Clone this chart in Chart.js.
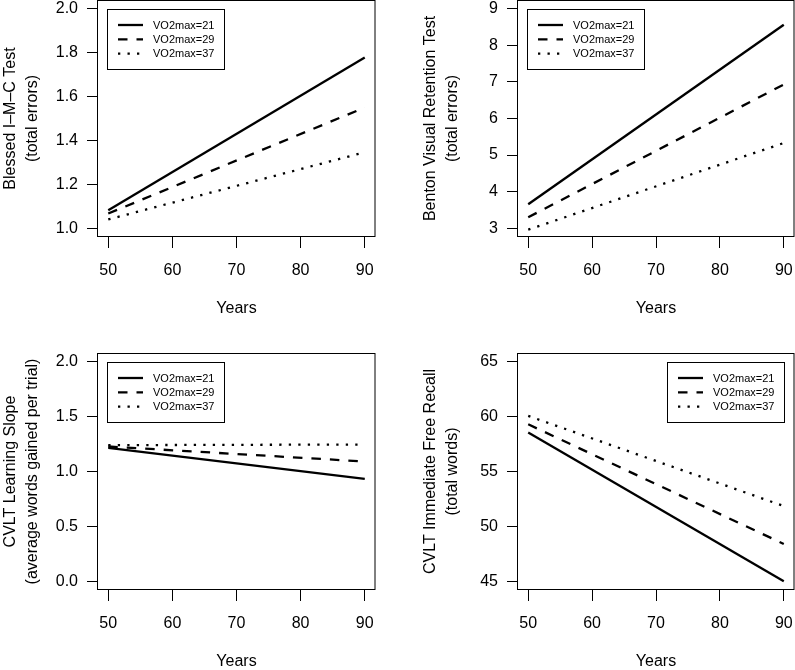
<!DOCTYPE html>
<html>
<head>
<meta charset="utf-8">
<script src="https://cdn.jsdelivr.net/npm/chart.js@4"></script>
<style>
  html, body { margin: 0; padding: 0; background: #fff; }
  body { width: 795px; height: 670px; position: relative; overflow: hidden; }
  canvas { position: absolute; }
</style>
</head>
<body>
<canvas id="c1"></canvas>
<canvas id="c2"></canvas>
<canvas id="c3"></canvas>
<canvas id="c4"></canvas>
<script>
// ---------------- DATA ----------------
const years = [50, 90];
const yearTicks = [50, 60, 70, 80, 90];
const groups = ["VO2max=21", "VO2max=29", "VO2max=37"];

const blessed21 = [1.082, 1.778];
const blessed29 = [1.067, 1.55];
const blessed37 = [1.04, 1.346];
const blessedTicks = [1.0, 1.2, 1.4, 1.6, 1.8, 2.0];

const benton21 = [3.656, 8.565];
const benton29 = [3.30, 6.93];
const benton37 = [2.96, 5.33];
const bentonTicks = [3, 4, 5, 6, 7, 8, 9];

const slope21 = [1.216, 0.933];
const slope29 = [1.228, 1.091];
const slope37 = [1.24, 1.246];
const slopeTicks = [0.0, 0.5, 1.0, 1.5, 2.0];

const recall21 = [58.55, 45.0];
const recall29 = [59.3, 48.4];
const recall37 = [60.07, 51.85];
const recallTicks = [45, 50, 55, 60, 65];

// ---------------- STYLE ----------------
const FONT = "'Liberation Sans', Arial, Helvetica, sans-serif";
const dashes = [[], [9.5, 9], [2.3, 7.2]];
const LW = 2.3;

// box round the plot area
const boxPlugin = {
    id: "rbox",
    afterDraw(chart) {
        const a = chart.chartArea;
        const ctx = chart.ctx;
        ctx.save();
        ctx.strokeStyle = "#000";
        ctx.lineWidth = 1;
        ctx.setLineDash([]);
        ctx.strokeRect(Math.round(a.left) - 0.5, Math.round(a.top) + 0.5,
            Math.round(a.right - a.left) + 0.5, Math.round(a.bottom - a.top) - 1);
        ctx.restore();
    }
};

// R style legend inside the plot
const legendPlugin = {
    id: "rlegend",
    afterDraw(chart, args, opts) {
        const a = chart.chartArea;
        const ctx = chart.ctx;
        const w = 117, h = 60;
        const x0 = opts.corner === "right" ? a.right - 10 - w : a.left + 9;
        const y0 = a.top + 9;
        ctx.save();
        ctx.fillStyle = "#fff";
        ctx.fillRect(x0, y0, w, h);
        ctx.strokeStyle = "#000";
        ctx.lineWidth = 1;
        ctx.strokeRect(Math.round(x0) + 0.5, Math.round(y0) + 0.5, w, h);
        chart.data.datasets.forEach((ds, i) => {
            const y = y0 + 16 + i * 14.3;
            ctx.beginPath();
            ctx.setLineDash(ds.borderDash || []);
            ctx.lineWidth = ds.borderWidth;
            ctx.moveTo(x0 + 11, y);
            ctx.lineTo(x0 + 36, y);
            ctx.stroke();
            ctx.setLineDash([]);
            ctx.fillStyle = "#000";
            ctx.font = "11px " + FONT;
            ctx.textBaseline = "middle";
            ctx.textAlign = "left";
            ctx.fillText(ds.label, x0 + 46, y + 0.5);
        });
        ctx.restore();
    }
};

// ---------------- PANELS ----------------
function makePanel(id, area, series, yMin, yMax, yTicks, decimals, title, corner) {
    const padL = 98, padT = 20, padR = 25, padB = 83;
    const el = document.getElementById(id);
    const W = (area.r - area.l) + padL + padR;
    const H = (area.b - area.t) + padT + padB;
    el.style.left = (area.l - padL) + "px";
    el.style.top = (area.t - padT) + "px";
    el.width = W;
    el.height = H;
    el.style.width = W + "px";
    el.style.height = H + "px";

    new Chart(el.getContext("2d"), {
        type: "line",
        data: {
            labels: years,
            datasets: series.map((s, i) => ({
                label: groups[i],
                data: s,
                borderColor: "#000",
                borderWidth: LW,
                borderDash: dashes[i],
                borderCapStyle: "butt",
                pointRadius: 0,
                tension: 0,
                fill: false
            }))
        },
        options: {
            responsive: false,
            animation: false,
            devicePixelRatio: 1,
            layout: { padding: { left: 0, top: padT, right: padR, bottom: 0 } },
            plugins: {
                legend: { display: false },
                tooltip: { enabled: false },
                rlegend: { corner: corner }
            },
            scales: {
                x: {
                    type: "linear",
                    min: 48.4,
                    max: 91.6,
                    afterBuildTicks: s => { s.ticks = yearTicks.map(v => ({ value: v })); },
                    afterFit: s => { s.height = padB; },
                    border: { display: false },
                    grid: { drawOnChartArea: false, drawTicks: true, tickLength: 11, tickColor: "#000", tickWidth: 1 },
                    ticks: { color: "#000", font: { family: FONT, size: 16 }, padding: 13, maxRotation: 0 },
                    title: { display: true, text: "Years", color: "#000", font: { family: FONT, size: 16, lineHeight: 1.375 }, padding: 0 }
                },
                y: {
                    min: yMin,
                    max: yMax,
                    afterBuildTicks: s => { s.ticks = yTicks.map(v => ({ value: v })); },
                    afterFit: s => { s.width = padL; },
                    border: { display: false },
                    grid: { drawOnChartArea: false, drawTicks: true, tickLength: 11, tickColor: "#000", tickWidth: 1 },
                    ticks: {
                        color: "#000",
                        font: { family: FONT, size: 16 },
                        padding: 9,
                        callback: v => Number(v).toFixed(decimals)
                    },
                    title: { display: true, text: title, color: "#000", font: { family: FONT, size: 16, lineHeight: 1.375 }, padding: 0 }
                }
            }
        },
        plugins: [boxPlugin, legendPlugin]
    });
}

window.addEventListener("load", () => {
    makePanel("c1", { l: 98, t: 0, r: 375, b: 237 },
        [blessed21, blessed29, blessed37], 0.96, 2.04, blessedTicks, 1,
        ["Blessed I\u2013M\u2013C Test", "(total errors)"], "left");
    makePanel("c2", { l: 518, t: 0, r: 794, b: 237 },
        [benton21, benton29, benton37], 2.76, 9.24, bentonTicks, 0,
        ["Benton Visual Retention Test", "(total errors)"], "left");
    makePanel("c3", { l: 98, t: 353, r: 375, b: 590 },
        [slope21, slope29, slope37], -0.08, 2.08, slopeTicks, 1,
        ["CVLT Learning Slope", "(average words gained per trial)"], "left");
    makePanel("c4", { l: 518, t: 353, r: 794, b: 590 },
        [recall21, recall29, recall37], 44.2, 65.8, recallTicks, 0,
        ["CVLT Immediate Free Recall", "(total words)"], "right");
});
</script>
</body>
</html>
